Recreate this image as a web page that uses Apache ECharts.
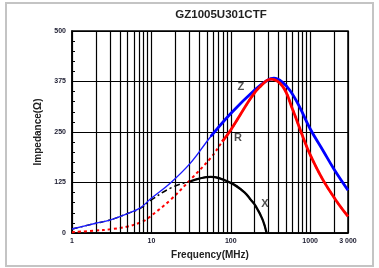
<!DOCTYPE html>
<html>
<head>
<meta charset="utf-8">
<script src="https://cdn.jsdelivr.net/npm/echarts@6/dist/echarts.min.js"></script>
<style>
html,body{margin:0;padding:0;background:#fff;}
#c{width:379px;height:268px;}
</style>
</head>
<body>
<div id="c"></div>
<script>
// ---- data ----
const titleText = 'GZ1005U301CTF';
const yTicks = [0, 125, 250, 375, 500];
const minorFreqs = [2,3,4,5,6,7,8,9,20,30,40,50,60,70,80,90,200,300,400,500,600,700,800,900,2000];

// Z (impedance): thin low part, thick high part
const zLowF  = [1, 2, 3, 5, 7.25, 9.7, 17.4, 31, 56];
const zLowV  = [10, 24, 32, 48, 62, 84, 124, 173, 239];
const zHighF = [56, 100, 200, 290, 350, 450, 561, 733, 1000, 1445, 2000, 3000];
const zHighV = [239, 296, 354, 378, 383, 373, 352, 313, 258, 205, 158, 106];

// R (resistance): dotted low part, solid high part
const rLowF  = [1, 2, 3, 5, 7.25, 8.4, 9.7, 17.4, 31, 56, 78];
const rLowV  = [2, 6, 9, 16, 26, 32, 41, 82, 132, 186, 226];
const rHighF = [78, 100, 179, 228, 321, 451, 604, 807, 1000, 1445, 2133, 3000];
const rHighV = [226, 255, 334, 360, 381, 363, 305, 239, 194, 132, 80, 41];

// X (reactance): dash-dot low part, solid high part
const xLowF  = [1, 2, 3, 5, 7.25, 9.7, 17.4, 31];
const xLowV  = [10, 24, 32, 48, 61, 80, 111, 128];
const xHighF = [31, 56, 100, 150, 179, 207, 252, 283];
const xHighV = [128, 139, 124, 100, 82, 66, 33, 0];

// curve name labels
const labelNames = ['Z', 'R', 'X'];
const labelF = [134, 123, 269];
const labelV = [361, 235, 72];

const pairs = (f, v) => f.map((x, i) => [x, v[i]]);
const joined = (f1, v1, f2, v2) => pairs(f1, v1).concat(pairs(f2, v2).slice(1));
const FONT = '"Liberation Sans", Arial, sans-serif';
const SM = 0.4;

const chart = echarts.init(document.getElementById('c'), null, {renderer: 'canvas'});
chart.setOption({
  animation: false,
  backgroundColor: '#fff',
  grid: {left: 72, right: 31, top: 31, bottom: 35, show: true, borderColor: '#000', borderWidth: 1.5},
  graphic: [
    {type: 'rect', shape: {x: 6, y: 3, width: 367, height: 263},
     style: {fill: 'none', stroke: '#c4c4c4', lineWidth: 2}, z: -1},
    {type: 'text', x: 221, y: 15,
     style: {text: titleText, font: 'bold 11.5px ' + FONT, fill: '#222', textAlign: 'center', textVerticalAlign: 'middle'}}
  ],
  xAxis: {
    type: 'log', logBase: 10, min: 1, max: 3000,
    name: 'Frequency(MHz)', nameLocation: 'middle', nameGap: 17,
    nameTextStyle: {fontFamily: FONT, fontWeight: 'bold', fontSize: 10, color: '#222'},
    axisLine: {show: true, lineStyle: {color: '#000', width: 1.5}},
    axisTick: {show: false},
    axisLabel: {
      fontFamily: FONT, fontWeight: 'bold', fontSize: 7, color: '#1c1c30', margin: 5,
      showMinLabel: true, showMaxLabel: true,
      formatter: v => { const r = Math.round(v); return r === 3000 ? '3 000' : String(r); }
    },
    splitLine: {show: true, lineStyle: {color: '#000', width: 1.2}}
  },
  yAxis: {
    type: 'value', min: 0, max: 500, interval: 125,
    name: 'Impedance(Ω)', nameLocation: 'middle', nameGap: 21, nameRotate: 90,
    nameTextStyle: {fontFamily: FONT, fontWeight: 'bold', fontSize: 10, color: '#222'},
    axisLine: {show: true, lineStyle: {color: '#000', width: 1.5}},
    axisTick: {show: true, inside: true, length: 3, lineStyle: {color: '#000'}},
    minorTick: {show: true, splitNumber: 5, length: 3, lineStyle: {color: '#000'}},
    axisLabel: {fontFamily: FONT, fontWeight: 'bold', fontSize: 7, color: '#1c1c30', margin: 6,
      formatter: v => yTicks.includes(v) ? String(v) : ''},
    splitLine: {show: true, lineStyle: {color: '#000', width: 1}}
  },
  series: [
    {type: 'line', data: [], silent: true,
     markLine: {silent: true, symbol: 'none', label: {show: false},
       lineStyle: {color: '#000', width: 1.2, type: 'solid'},
       data: minorFreqs.map(f => ({xAxis: f}))}},
    {type: 'line', name: 'X1', data: joined(xLowF, xLowV, xHighF, xHighV), smooth: SM, showSymbol: false,
     lineStyle: {color: '#000', width: 1.5, type: [6, 3, 2, 3]}, z: 3},
    {type: 'line', name: 'X2', data: pairs(xHighF, xHighV), smooth: SM, showSymbol: false,
     lineStyle: {color: '#000', width: 2.3}, z: 3},
    {type: 'line', name: 'R1', data: joined(rLowF, rLowV, rHighF, rHighV), smooth: SM, showSymbol: false,
     lineStyle: {color: '#ff0000', width: 2, type: [3, 3]}, z: 4},
    {type: 'line', name: 'Z1', data: joined(zLowF, zLowV, zHighF, zHighV), smooth: SM, showSymbol: false,
     lineStyle: {color: '#1a1aff', width: 1.4}, z: 5},
    {type: 'line', name: 'Z2', data: pairs(zHighF, zHighV), smooth: SM, showSymbol: false,
     lineStyle: {color: '#0000ff', width: 2.8}, z: 6},
    {type: 'line', name: 'R2', data: pairs(rHighF, rHighV), smooth: SM, showSymbol: false,
     lineStyle: {color: '#ff0000', width: 2.8}, z: 7},
    {type: 'scatter', data: labelF.map((f, i) => [f, labelV[i], labelNames[i]]),
     symbolSize: 1, itemStyle: {color: 'rgba(0,0,0,0)'}, silent: true, z: 8,
     label: {show: true, position: 'inside', formatter: p => p.value[2],
       fontFamily: FONT, fontWeight: 'bold', fontSize: 11, color: '#222'}}
  ]
});
</script>
</body>
</html>
